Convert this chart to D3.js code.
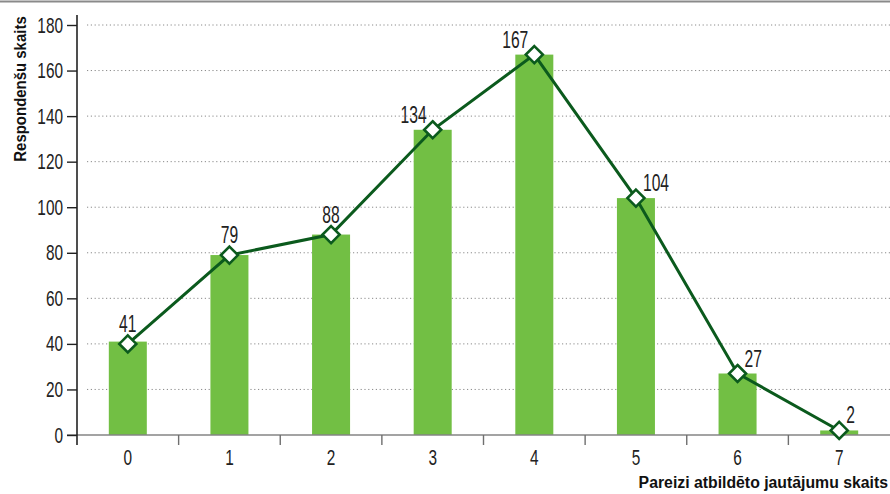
<!DOCTYPE html>
<html>
<head>
<meta charset="utf-8">
<script src="https://cdn.jsdelivr.net/npm/d3@7"></script>
<style>
  body { margin: 0; background: #fff; }
  svg { display: block; font-family: 'Liberation Sans', Arial, sans-serif; }
</style>
</head>
<body>
<div id="chart"><svg width="890" height="494"></svg></div>
<script>
const categories = ['0', '1', '2', '3', '4', '5', '6', '7'];
const barValues = [41, 79, 88, 134, 167, 104, 27, 2];
const lineValues = [40, 79, 88, 134, 167, 104, 27, 2];
const yTicks = [0, 20, 40, 60, 80, 100, 120, 140, 160, 180];

const SVG = d3.select('#chart svg');
const WIDTH = 890;
const LEFT = 77;
const BASE = 435;
const TOP = 25;

const BAR_COLOR = '#72bf44';
const LINE_COLOR = '#0b5a1d';
const NUM_SQUEEZE = 0.7;

// the source font is a condensed face, so squeeze the text horizontally
function squeeze(sel, sx) {
  sel.each((d, i, n) => {
    const t = d3.select(n[i]);
    const x = +t.attr('x') || 0;
    const y = +t.attr('y') || 0;
    t.attr('x', 0).attr('y', 0)
      .attr('transform', `translate(${x},${y}) scale(${sx},1)`);
  });
}

// top rule (edge of previous block)
SVG.append('line')
  .attr('x1', 0).attr('x2', WIDTH)
  .attr('y1', 1.5).attr('y2', 1.5)
  .style('stroke', '#8a8a8a')
  .style('stroke-width', 2);

const X_SCALE = d3.scaleBand()
  .domain(categories)
  .range([LEFT, WIDTH])
  .paddingInner(0.626)
  .paddingOuter(0.313);

const Y_SCALE = d3.scaleLinear()
  .domain([0, 180])
  .range([BASE, TOP]);

const gap = (X_SCALE.step() - X_SCALE.bandwidth()) / 2;

// dotted grid
SVG.append('g')
  .selectAll('line')
  .data(yTicks.filter((d) => d > 0))
  .join('line')
  .attr('x1', LEFT + 10)
  .attr('x2', WIDTH)
  .attr('y1', (d) => Y_SCALE(d))
  .attr('y2', (d) => Y_SCALE(d))
  .style('stroke', '#8a8a8a')
  .style('stroke-width', 1)
  .style('stroke-dasharray', '1.2,2.6');

// bars
SVG.append('g')
  .selectAll('rect')
  .data(barValues)
  .join('rect')
  .attr('x', (d, i) => X_SCALE(categories[i]))
  .attr('width', X_SCALE.bandwidth())
  .attr('y', (d) => Y_SCALE(d))
  .attr('height', (d) => BASE - Y_SCALE(d))
  .style('fill', BAR_COLOR);

// x axis line and ticks
SVG.append('line')
  .attr('x1', LEFT - 10).attr('x2', WIDTH)
  .attr('y1', BASE).attr('y2', BASE)
  .style('stroke', '#858585')
  .style('stroke-width', 1.6);

SVG.append('g')
  .selectAll('line')
  .data(categories.slice(1))
  .join('line')
  .attr('x1', (d) => X_SCALE(d) - gap)
  .attr('x2', (d) => X_SCALE(d) - gap)
  .attr('y1', BASE).attr('y2', BASE + 10)
  .style('stroke', '#6f6f6f')
  .style('stroke-width', 1.4);

SVG.append('g')
  .selectAll('text')
  .data(categories)
  .join('text')
  .attr('x', (d) => X_SCALE(d) + X_SCALE.bandwidth() / 2)
  .attr('y', 465)
  .attr('text-anchor', 'middle')
  .style('font-size', '22px')
  .style('fill', '#222')
  .text((d) => d)
  .call(squeeze, NUM_SQUEEZE);

// y axis
const Y_AXIS = d3.axisLeft(Y_SCALE).tickValues(yTicks).tickSize(10).tickPadding(4);
const Y_AXIS_G = SVG.append('g')
  .attr('transform', `translate(${LEFT}, 0)`);
Y_AXIS(Y_AXIS_G);
Y_AXIS_G.select('.domain').remove();
Y_AXIS_G.selectAll('.tick line').style('stroke', '#222').style('stroke-width', 1.4);
Y_AXIS_G.selectAll('.tick text')
  .style('font-size', '22px')
  .style('font-family', "'Liberation Sans', Arial, sans-serif")
  .style('fill', '#222')
  .call(squeeze, NUM_SQUEEZE);

SVG.append('line')
  .attr('x1', LEFT).attr('x2', LEFT)
  .attr('y1', 15).attr('y2', BASE + 10)
  .style('stroke', '#222')
  .style('stroke-width', 1.6);

// line + markers
const cx = (i) => X_SCALE(categories[i]) + X_SCALE.bandwidth() / 2;
const LINE = d3.line()
  .x((d, i) => cx(i))
  .y((d) => Y_SCALE(d));

SVG.append('path')
  .datum(lineValues)
  .attr('d', LINE)
  .style('fill', 'none')
  .style('stroke', LINE_COLOR)
  .style('stroke-width', 3);

SVG.append('g')
  .selectAll('path')
  .data(lineValues)
  .join('path')
  .attr('transform', (d, i) => `translate(${cx(i)}, ${Y_SCALE(d)})`)
  .attr('d', 'M0,-8.5L8.5,0L0,8.5L-8.5,0Z')
  .style('fill', '#fff')
  .style('stroke', LINE_COLOR)
  .style('stroke-width', 2.6);

// value labels
const peak = barValues.indexOf(d3.max(barValues));
SVG.append('g')
  .selectAll('text')
  .data(barValues)
  .join('text')
  .each((d, i, n) => {
    const t = d3.select(n[i]);
    const y = Y_SCALE(lineValues[i]);
    if (i < peak - 1) {
      t.attr('x', cx(i)).attr('y', y - 12).attr('text-anchor', 'middle');
    } else if (i <= peak) {
      t.attr('x', cx(i) - 6).attr('y', y - 7).attr('text-anchor', 'end');
    } else {
      t.attr('x', cx(i) + 7).attr('y', y - 7).attr('text-anchor', 'start');
    }
  })
  .style('font-size', '23px')
  .style('fill', '#222')
  .text((d) => d)
  .call(squeeze, 0.68);

// axis titles
SVG.append('text')
  .attr('transform', 'translate(26, 89) rotate(-90) scale(0.88,1)')
  .attr('text-anchor', 'middle')
  .style('font-size', '17px')
  .style('font-weight', 'bold')
  .style('fill', '#111')
  .text('Respondenšu skaits');

SVG.append('text')
  .attr('transform', 'translate(888, 488) scale(0.93,1)')
  .attr('text-anchor', 'end')
  .style('font-size', '17px')
  .style('font-weight', 'bold')
  .style('fill', '#111')
  .text('Pareizi atbildēto jautājumu skaits');
</script>
</body>
</html>
